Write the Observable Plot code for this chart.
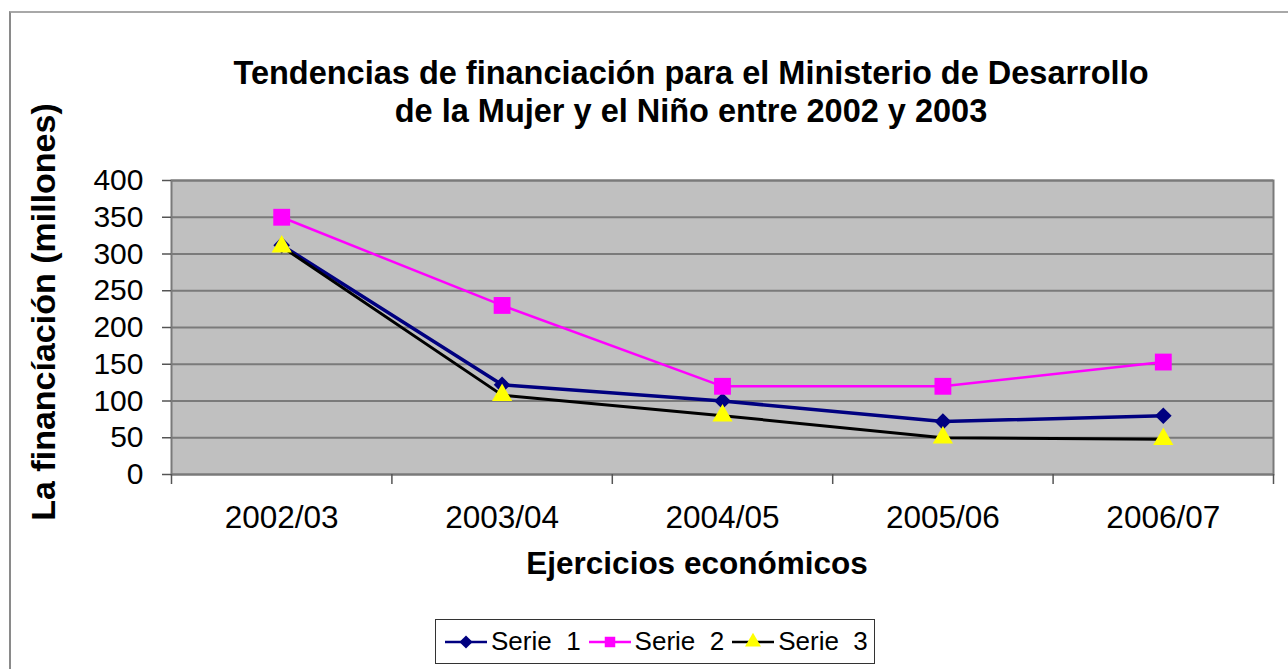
<!DOCTYPE html>
<html>
<head>
<meta charset="utf-8">
<script src="https://cdn.jsdelivr.net/npm/d3@7"></script>
<script src="https://cdn.jsdelivr.net/npm/@observablehq/plot@0.6"></script>
<style>
  html, body { margin: 0; padding: 0; background: #fff; }
  #wrap { position: relative; width: 1288px; height: 669px; overflow: hidden; font-family: "Liberation Sans", Arial, sans-serif; }
  #border { position: absolute; left: 9px; top: 11px; width: 1400px; height: 800px; border-top: 2px solid #a8a8a8; border-left: 2px solid #8a8a8a; }
  #chart { position: absolute; left: 0; top: 0; }
  .ov { position: absolute; color: #000; font-weight: bold; white-space: nowrap; }
  #title { left: 191px; width: 1000px; top: 54px; text-align: center; font-size: 32.5px; line-height: 38px; }
  #xlabel { left: 397px; width: 600px; top: 545px; text-align: center; font-size: 31.5px; line-height: 36px; }
  #ylabel { left: 43px; top: 312px; font-size: 34px; line-height: 38px; transform: translate(-50%, -50%) rotate(-90deg); }
  #legend { position: absolute; left: 435px; top: 619px; height: 43px; border: 1.5px solid #333; background: #fff; display: flex; align-items: center; padding: 0 6px 0 9px; font-size: 26px; font-weight: normal; }
  #legend .item { display: flex; align-items: center; margin-right: 8px; }
  #legend .item:last-child { margin-right: 0; }
  #legend svg { display: block; margin-right: 4px; }
</style>
</head>
<body>
<div id="wrap">
  <div id="border"></div>
  <div id="chart"></div>
  <div id="title" class="ov">Tendencias de financiación para el Ministerio de Desarrollo<br>de la Mujer y el Niño entre 2002 y 2003</div>
  <div id="xlabel" class="ov">Ejercicios económicos</div>
  <div id="ylabel" class="ov">La financíación (millones)</div>
  <div id="legend"></div>
</div>
<script>
// ---- data ----
const categories = ["2002/03", "2003/04", "2004/05", "2005/06", "2006/07"];
const serie1 = [312, 122, 100, 72, 80];
const serie2 = [350, 230, 120, 120, 153];
const serie3 = [310, 108, 80, 50, 48];
const seriesNames = ["Serie  1", "Serie  2", "Serie  3"];
const yTicks = [0, 50, 100, 150, 200, 250, 300, 350, 400];

const colors = ["#000080", "#ff00ff", "#000000"];
const markerFill = ["#000080", "#ff00ff", "#ffff00"];
const symbols = ["diamond2", "square", "triangle"];
const widths = [3.5, 2.5, 3];
const radii = [7.5, 9.5, 7.5];

const allSeries = [serie1, serie2, serie3];
const rows = allSeries.map((vals, s) => vals.map((v, i) => ({i, cat: categories[i], v, s})));

const idx = categories.map((_, i) => i);
const bounds = d3.range(categories.length + 1).map(i => i - 0.5);

const marks = [
  Plot.frame({fill: "#c0c0c0", stroke: null}),
  Plot.ruleY(yTicks, {stroke: "#7a7a7a", strokeWidth: 2}),
  Plot.frame({stroke: "#7a7a7a", strokeWidth: 2}),
  Plot.axisY(yTicks, {tickSize: 9, tickPadding: 19, fontSize: 30, stroke: "#555", strokeWidth: 1.5, color: "#000", label: null}),
  Plot.axisX(bounds, {tickSize: 10, tickFormat: () => "", stroke: "#555", strokeWidth: 1.5, label: null}),
  Plot.axisX(idx, {tickSize: 0, tickPadding: 31, fontSize: 31.5, tickFormat: i => categories[i], label: null, color: "#000"})
];
rows.forEach((data, s) => {
  marks.push(Plot.line(data, {x: "i", y: "v", stroke: colors[s], strokeWidth: widths[s]}));
});
rows.forEach((data, s) => {
  marks.push(Plot.dot(data, {x: "i", y: "v", symbol: () => symbols[s], fill: markerFill[s], stroke: null, r: radii[s]}));
});

const chart = Plot.plot({
  width: 1288,
  height: 669,
  marginLeft: 171,
  marginRight: 15,
  marginTop: 180,
  marginBottom: 195,
  style: {background: "transparent", fontFamily: "Liberation Sans, Arial, sans-serif", overflow: "visible"},
  x: {type: "linear", domain: [-0.5, categories.length - 0.5], axis: null},
  y: {domain: [0, 400], axis: null},
  symbol: {type: "identity"},
  marks
});
document.getElementById("chart").appendChild(chart);

// ---- legend ----
const legend = d3.select("#legend");
seriesNames.forEach((name, s) => {
  const item = legend.append("div").attr("class", "item");
  const svg = item.append("svg").attr("width", 42).attr("height", 20);
  svg.append("line").attr("x1", 0).attr("x2", 42).attr("y1", 10).attr("y2", 10)
    .attr("stroke", colors[s]).attr("stroke-width", 2.5);
  const sym = {diamond2: d3.symbolDiamond2, square: d3.symbolSquare, triangle: d3.symbolTriangle}[symbols[s]];
  svg.append("path").attr("transform", "translate(21,10)")
    .attr("d", d3.symbol(sym, 110)()).attr("fill", markerFill[s]);
  item.append("span").style("white-space", "pre").text(name);
});
</script>
</body>
</html>
